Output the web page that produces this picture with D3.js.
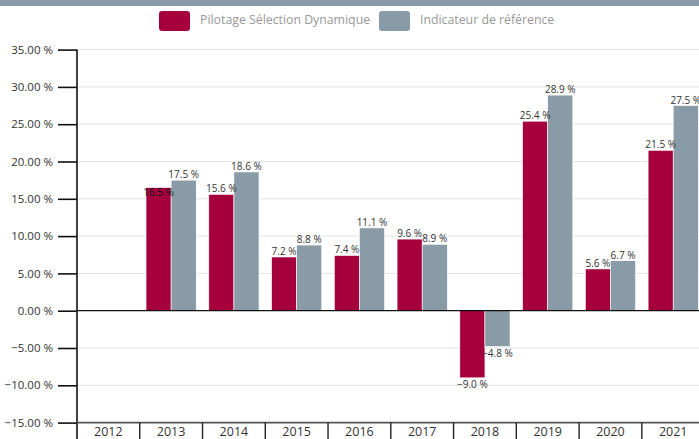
<!DOCTYPE html>
<html>
<head>
<meta charset="utf-8">
<script src="https://cdn.jsdelivr.net/npm/d3@7"></script>
<style>
  body { margin: 0; background: #fff; }
  svg { display: block; }
</style>
</head>
<body>
<div id="chart"></div>
<script>
// data
const years = ["2012", "2013", "2014", "2015", "2016", "2017", "2018", "2019", "2020", "2021"];
const pilotage = [null, 16.5, 15.6, 7.2, 7.4, 9.6, -9.0, 25.4, 5.6, 21.5];
const indicateur = [null, 17.5, 18.6, 8.8, 11.1, 8.9, -4.8, 28.9, 6.7, 27.5];
const yTicks = [-15, -10, -5, 0, 5, 10, 15, 20, 25, 30, 35];
const seriesNames = ["Pilotage Sélection Dynamique", "Indicateur de référence"];
const colors = ["#a5003b", "#8a9ba8"];

const W = 699, H = 439;
const plotLeft = 77, plotTop = 49.6, plotBottom = 422.6, plotRight = 704.6;

const svg = d3.select("#chart").append("svg")
    .attr("width", W).attr("height", H);

// top band
svg.append("rect").attr("x", 0).attr("y", 0).attr("width", W).attr("height", 6).attr("fill", "#8a9ba8");

const x = d3.scaleBand().domain(years).range([plotLeft, plotRight]).padding(0);
const x1 = d3.scaleBand().domain([0, 1]).range([x.bandwidth() * 0.1, x.bandwidth() * 0.9]);
const y = d3.scaleLinear().domain([-15, 35]).range([plotBottom, plotTop]);

// grid
svg.append("g").selectAll("line").data(yTicks.filter(d => d !== 0 && d !== -15)).enter()
    .append("line")
    .attr("x1", plotLeft).attr("x2", W)
    .attr("y1", d => y(d)).attr("y2", d => y(d))
    .attr("stroke", "#e3e3e3").attr("stroke-width", 1);

// y axis
const yAxis = svg.append("g")
    .attr("transform", `translate(${plotLeft},0)`)
    .call(d3.axisLeft(y).tickValues(yTicks).tickSize(19).tickPadding(5)
        .tickFormat(d => d3.format(".2f")(d) + " %"));
yAxis.select(".domain").remove();
yAxis.selectAll(".tick line").attr("stroke", "#111").attr("stroke-width", 1.6);
yAxis.selectAll("text").attr("fill", "#333")
    .style("font-family", "'Open Sans', sans-serif").style("font-size", "11.5px");
svg.append("line").attr("x1", plotLeft).attr("x2", plotLeft).attr("y1", plotTop).attr("y2", H)
    .attr("stroke", "#111").attr("stroke-width", 1.6);

// bars
const rows = years.map((yr, i) => ({ year: yr, vals: [pilotage[i], indicateur[i]] }));
const groups = svg.append("g").selectAll("g").data(rows).enter()
    .append("g").attr("transform", d => `translate(${x(d.year)},0)`);

groups.selectAll("rect")
    .data(d => d.vals.map((v, k) => ({ v, k })).filter(e => e.v !== null))
    .enter().append("rect")
    .attr("x", e => x1(e.k))
    .attr("width", x1.bandwidth())
    .attr("y", e => y(Math.max(0, e.v)))
    .attr("height", e => Math.abs(y(e.v) - y(0)))
    .attr("fill", e => colors[e.k])
    .attr("stroke", "#fff").attr("stroke-width", 0.6);

// value labels
groups.selectAll("text")
    .data(d => d.vals.map((v, k) => ({ v, k })).filter(e => e.v !== null))
    .enter().append("text")
    .attr("x", e => x1(e.k) + x1.bandwidth() / 2)
    .attr("y", e => e.v >= 0 ? y(e.v) - 2 : y(e.v) + 10)
    .attr("text-anchor", "middle")
    .attr("fill", "#333")
    .style("font-family", "'Open Sans', sans-serif").style("font-size", "10px")
    .text(e => d3.format(".1f")(e.v) + " %");

// push the first label inside its bar when it runs into its neighbour's label
groups.each(function () {
    const t = d3.select(this).selectAll("text").nodes();
    if (t.length < 2) return;
    const a = t[0].getBBox(), b = t[1].getBBox();
    const hit = a.x + a.width > b.x + 1 && b.x + b.width > a.x &&
                a.y + a.height > b.y + 1 && b.y + b.height > a.y;
    if (hit) {
        const d = d3.select(t[0]).datum();
        d3.select(t[0]).attr("y", y(d.v) + 8.5).attr("fill", "#111");
    }
});

// zero line
svg.append("line").attr("x1", plotLeft).attr("x2", W).attr("y1", y(0)).attr("y2", y(0))
    .attr("stroke", "#111").attr("stroke-width", 1.3);

// bottom category axis
svg.append("line").attr("x1", plotLeft).attr("x2", W).attr("y1", plotBottom).attr("y2", plotBottom)
    .attr("stroke", "#555").attr("stroke-width", 1.8);
svg.append("g").selectAll("line").data(years.slice(1)).enter().append("line")
    .attr("x1", d => x(d)).attr("x2", d => x(d))
    .attr("y1", plotBottom).attr("y2", H)
    .attr("stroke", "#222").attr("stroke-width", 1.4);
svg.append("g").selectAll("text").data(years).enter().append("text")
    .attr("x", d => x(d) + x.bandwidth() / 2)
    .attr("y", 436)
    .attr("text-anchor", "middle")
    .attr("fill", "#333")
    .style("font-family", "'Liberation Sans Narrow', 'Open Sans', sans-serif").style("font-size", "12.5px")
    .text(d => d);

// legend
const legend = svg.append("g");
const legendX = [159, 379];
seriesNames.forEach((name, i) => {
    legend.append("rect").attr("x", legendX[i]).attr("y", 11).attr("width", 31).attr("height", 20)
        .attr("rx", 3).attr("fill", colors[i]);
    legend.append("text").attr("x", legendX[i] + 41).attr("y", 23.5)
        .attr("fill", "#999")
        .style("font-family", "'Liberation Sans Narrow', 'Open Sans', sans-serif").style("font-size", "12.3px")
        .text(name);
});
</script>
</body>
</html>
